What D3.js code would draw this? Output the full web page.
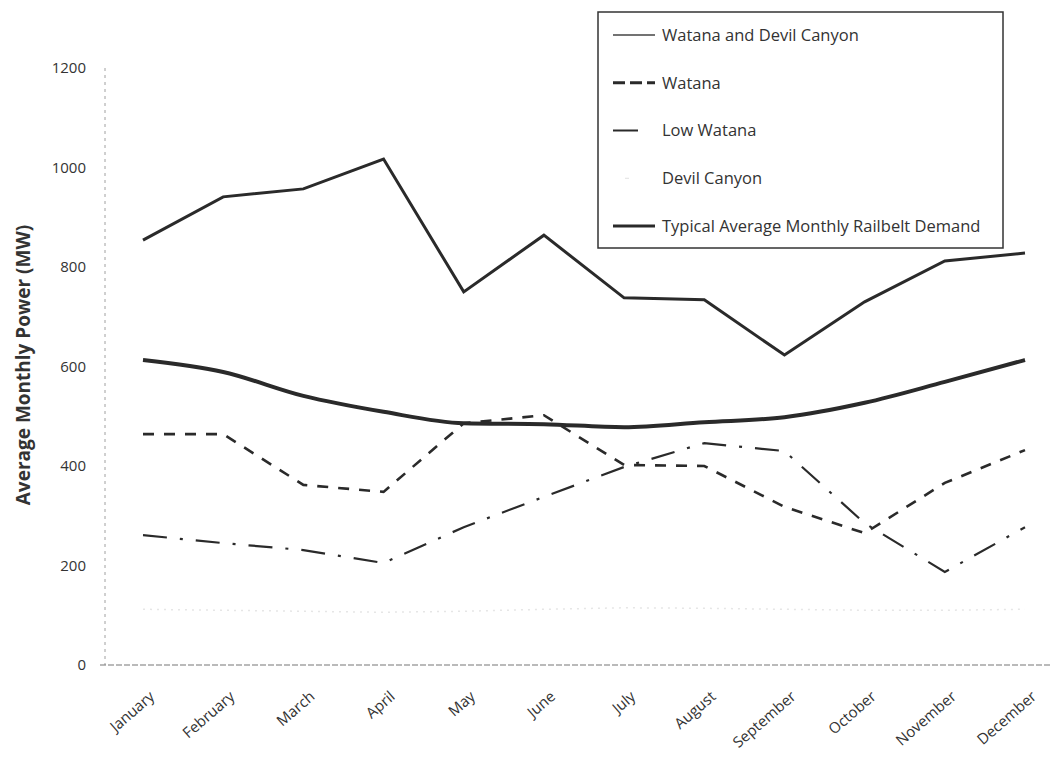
<!DOCTYPE html>
<html><head><meta charset="utf-8">
<script src="https://cdn.jsdelivr.net/npm/d3@7"></script>
<style>
body{margin:0;background:#fff;}
svg text{font-family:"Open Sans",sans-serif;fill:#333;}
</style></head>
<body><svg id="c" width="1058" height="766"></svg>
<script>
const months = ["January","February","March","April","May","June","July","August","September","October","November","December"];
const watanaDevil = [854, 941, 957, 1017, 750, 864, 738, 734, 623, 730, 812, 828];
const watana      = [464, 464, 362, 348, 486, 502, 402, 400, 318, 265, 366, 432];
const lowWatana   = [261, 245, 231, 205, 277, 338, 398, 446, 430, 285, 187, 277];
const devilCanyon = [112, 110, 108, 106, 108, 112, 115, 114, 112, 110, 110, 112];
const demand      = [613, 589, 541, 509, 486, 484, 478, 488, 498, 527, 569, 613];
const yTicks = [0, 200, 400, 600, 800, 1000, 1200];
const legendNames = ["Watana and Devil Canyon","Watana","Low Watana","Devil Canyon","Typical Average Monthly Railbelt Demand"];

const svg = d3.select("#c");
const x = d3.scalePoint().domain(months).range([143, 1025]);
const y = d3.scaleLinear().domain([0, 1200]).range([665, 68]);

// axes lines
svg.append("line").attr("x1",105).attr("x2",105).attr("y1",y(1200)).attr("y2",y(0))
  .attr("stroke","#a0a0a0").attr("stroke-width",1).attr("stroke-dasharray","3,4");
svg.append("line").attr("x1",100).attr("x2",1052).attr("y1",y(0)).attr("y2",y(0))
  .attr("stroke","#777").attr("stroke-width",1.2).attr("stroke-dasharray","6,2");

// y ticks
const yAxis = svg.append("g").attr("transform","translate(86,0)")
  .call(d3.axisLeft(y).tickValues(yTicks).tickSize(0).tickPadding(0).tickFormat(d3.format("d")));
yAxis.select(".domain").remove();
yAxis.selectAll("text").style("font-size","15px").attr("fill","#444");

// x labels
const xg = svg.append("g");
xg.selectAll("text").data(months).enter().append("text")
  .attr("transform", d => `translate(${x(d)+9},${694}) rotate(-41)`)
  .attr("text-anchor","end").attr("dy","0.35em")
  .style("font-size","15px").attr("fill","#444").text(d=>d);

// y title
svg.append("text").attr("transform","translate(23,365) rotate(-90)")
  .attr("text-anchor","middle").attr("dy","0.35em").style("font-size","19px").style("font-weight","bold")
  .attr("fill","#333").text("Average Monthly Power (MW)");

const line = d3.line().x((d,i)=>x(months[i])).y(d=>y(d));
const smooth = d3.line().x((d,i)=>x(months[i])).y(d=>y(d)).curve(d3.curveMonotoneX);

const series = [
  {v: devilCanyon, gen: line, w:1.5, dash:"2,5", c:"#e6e6e6"},
  {v: lowWatana, gen: line, w:2.2, dash:"24,13,3,13", c:"#2a2a2a"},
  {v: watana, gen: line, w:2.6, dash:"11,10", c:"#2a2a2a"},
  {v: watanaDevil, gen: line, w:3, dash:null, c:"#2a2a2a"},
  {v: demand, gen: smooth, w:4, dash:null, c:"#2a2a2a"}
];
series.forEach(s=>{
  svg.append("path").attr("d", s.gen(s.v)).attr("fill","none")
    .attr("stroke", s.c).attr("stroke-width", s.w)
    .attr("stroke-dasharray", s.dash).attr("stroke-linejoin","miter");
});

// legend
const lg = svg.append("g");
lg.append("rect").attr("x",598).attr("y",12).attr("width",405).attr("height",236)
  .attr("fill","#fff").attr("stroke","#333").attr("stroke-width",1.5);
const legendStyles = [
  {w:1.5, dash:null, c:"#444", x1:613, x2:655},
  {w:3, dash:"12,5", c:"#2a2a2a", x1:613, x2:655},
  {w:2, dash:null, c:"#2a2a2a", x1:613, x2:638},
  {w:1, dash:null, c:"#e0e0e0", x1:625, x2:629},
  {w:3, dash:null, c:"#2a2a2a", x1:613, x2:655}
];
const ly = d3.scalePoint().domain(legendNames).range([35, 226]);
legendNames.forEach((n,i)=>{
  const s = legendStyles[i];
  lg.append("line").attr("x1",s.x1).attr("x2",s.x2).attr("y1",ly(n)).attr("y2",ly(n))
    .attr("stroke",s.c).attr("stroke-width",s.w).attr("stroke-dasharray",s.dash);
  lg.append("text").attr("x",662).attr("y",ly(n)).attr("dy","0.35em")
    .style("font-size","16.5px").attr("fill","#333").text(n);
});
</script></body></html>
